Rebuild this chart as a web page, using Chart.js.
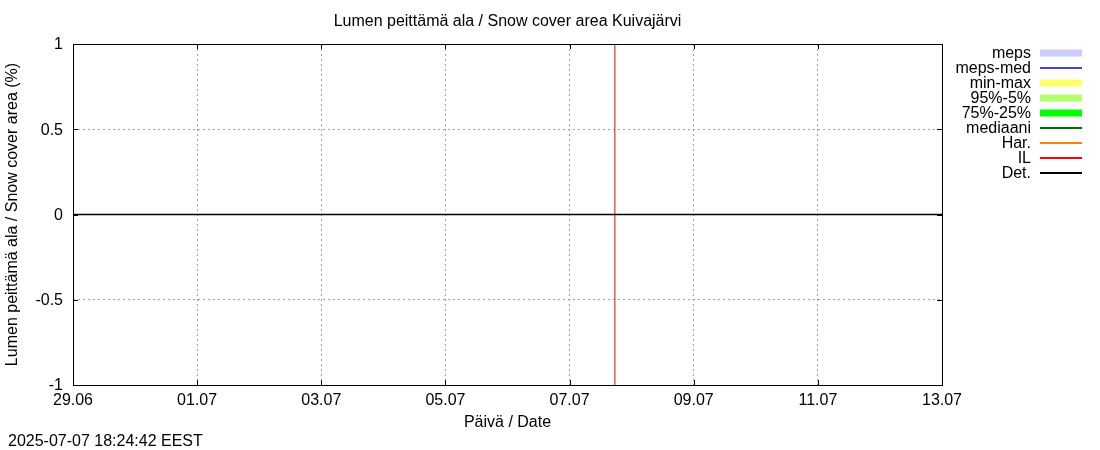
<!DOCTYPE html>
<html>
<head>
<meta charset="utf-8">
<script src="https://cdn.jsdelivr.net/npm/chart.js@4/dist/chart.umd.min.js"></script>
<style>
	html, body { margin: 0; padding: 0; background: #fff; }
	#wrap { width: 1100px; height: 450px; }
</style>
</head>
<body>
<div id="wrap"><canvas id="diagram"></canvas></div>
<script>
// days since 29.06
const xDays = [0, 1, 2, 3, 4, 5, 6, 7, 8, 9, 10, 11, 12, 13, 14];
const xTickLabels = ['29.06', '01.07', '03.07', '05.07', '07.07', '09.07', '11.07', '13.07'];
const detValues = [0, 0, 0, 0, 0, 0, 0, 0, 0, 0, 0, 0, 0, 0, 0];
const nowDay = 8.73; // 07.07 evening, current time marker
const nowRange = [-1, 1];

const legendLabels = ['meps', 'meps-med', 'min-max', '95%-5%', '75%-25%', 'mediaani', 'Har.', 'IL', 'Det.'];
const legendKinds = ['band', 'line', 'band', 'band', 'band', 'line', 'line', 'line', 'line'];
const legendColors = ['#ccccff', '#4444dd', '#ffff66', '#b4ff6e', '#00ff00', '#007000', '#ff7f00', '#ff0000', '#000000'];

const FONT = '"Liberation Sans", Arial, sans-serif';
Chart.defaults.font.family = FONT;
Chart.defaults.font.size = 16;
Chart.defaults.color = '#000';

const framePlugin = {
	id: 'frame',
	afterDatasetsDraw(chart) {
		const ctx = chart.ctx;
		const a = chart.chartArea;
		const xs = chart.scales.x;
		const ys = chart.scales.y;
		ctx.save();
		ctx.strokeStyle = '#000';
		ctx.lineWidth = 1;
		ctx.beginPath();
		xs.ticks.forEach(t => {
			const px = Math.round(xs.getPixelForValue(t.value)) + 0.5;
			ctx.moveTo(px, a.bottom);
			ctx.lineTo(px, a.bottom - 5);
			ctx.moveTo(px, a.top);
			ctx.lineTo(px, a.top + 5);
		});
		ys.ticks.forEach(t => {
			const py = Math.round(ys.getPixelForValue(t.value)) + 0.5;
			ctx.moveTo(a.left, py);
			ctx.lineTo(a.left + 5, py);
			ctx.moveTo(a.right, py);
			ctx.lineTo(a.right - 5, py);
		});
		ctx.stroke();
		ctx.strokeRect(Math.round(a.left) + 0.5, Math.round(a.top) + 0.5,
			Math.round(a.right - a.left), Math.round(a.bottom - a.top));
		ctx.restore();
	},
	afterDraw(chart) {
		const ctx = chart.ctx;
		ctx.save();
		ctx.font = '16px ' + FONT;
		ctx.fillStyle = '#000';
		ctx.textBaseline = 'middle';
		// legend
		legendLabels.forEach((label, i) => {
			const y = 52 + i * 15;
			ctx.textAlign = 'right';
			ctx.fillText(label, 1031, y + 1.5);
			if (legendKinds[i] === 'band') {
				ctx.fillStyle = legendColors[i];
				ctx.fillRect(1040, y - 3.5 + 1, 42, 7);
				ctx.fillStyle = '#000';
			} else {
				ctx.strokeStyle = legendColors[i];
				ctx.lineWidth = 2;
				ctx.beginPath();
				ctx.moveTo(1040, y + 1);
				ctx.lineTo(1082, y + 1);
				ctx.stroke();
			}
		});
		ctx.textAlign = 'left';
		ctx.fillText('2025-07-07 18:24:42 EEST', 8, 441.5);
		ctx.restore();
	}
};

const chart = new Chart(document.getElementById('diagram'), {
	type: 'line',
	data: {
		datasets: [{
			label: 'Det.',
			data: xDays.map((d, i) => ({ x: d, y: detValues[i] })),
			borderColor: '#000',
			borderWidth: 1.5,
			pointRadius: 0,
			fill: false
		}, {
			label: 'now',
			data: nowRange.map(v => ({ x: nowDay, y: v })),
			borderColor: '#ee0000',
			borderWidth: 1,
			pointRadius: 0,
			fill: false
		}]
	},
	options: {
		responsive: true,
		maintainAspectRatio: false,
		animation: false,
		devicePixelRatio: 1,
		layout: { padding: { top: 0, right: 158, bottom: 0, left: 0 } },
		plugins: {
			legend: { display: false },
			tooltip: { enabled: false },
			title: {
				display: true,
				fullSize: false,
				text: 'Lumen peittämä ala / Snow cover area Kuivajärvi',
				color: '#000',
				font: { size: 16, weight: 'normal' },
				padding: { top: 12, bottom: 12.8 }
			}
		},
		scales: {
			x: {
				type: 'linear',
				min: 0,
				max: 14,
				ticks: {
					stepSize: 2,
					padding: 6,
					maxRotation: 0,
					autoSkip: false,
					callback: v => xTickLabels[v / 2]
				},
				grid: { color: '#a0a0a0', drawTicks: false, lineWidth: 1 },
				border: { display: false, dash: [2, 3] },
				title: {
					display: true,
					text: 'Päivä / Date',
					padding: { top: 0, bottom: 17.5 }
				},
				afterFit: s => { s.height = 65; }
			},
			y: {
				min: -1,
				max: 1,
				ticks: {
					stepSize: 0.5,
					padding: 10,
					labelOffset: 1,
					callback: v => String(v)
				},
				grid: { color: '#a0a0a0', drawTicks: false, lineWidth: 1 },
				border: { display: false, dash: [2, 3] },
				title: {
					display: true,
					text: 'Lumen peittämä ala / Snow cover area (%)',
					padding: { top: 3.4, bottom: 0 }
				},
				afterFit: s => { s.width = 73; }
			}
		}
	},
	plugins: [framePlugin]
});
</script>
</body>
</html>
